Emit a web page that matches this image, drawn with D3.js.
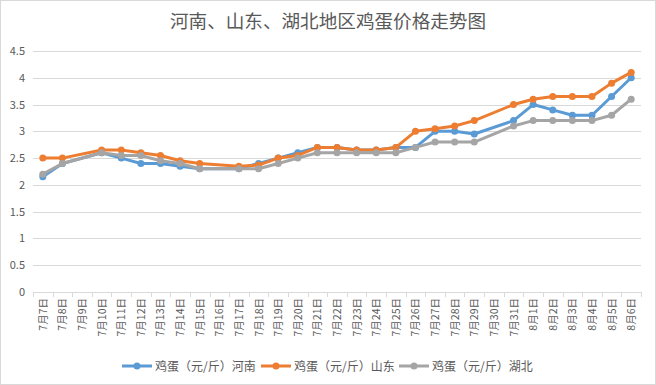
<!DOCTYPE html>
<html><head><meta charset="utf-8">
<script src="https://cdn.jsdelivr.net/npm/d3@7"></script>
<style>body{margin:0;background:#fff;}svg{display:block;font-family:"Noto Sans CJK SC","Noto Sans",sans-serif;}</style>
</head><body>
<svg id="c" width="656" height="385"></svg>
<script>
const categories = ["7月7日","7月8日","7月9日","7月10日","7月11日","7月12日","7月13日","7月14日","7月15日","7月16日","7月17日","7月18日","7月19日","7月20日","7月21日","7月22日","7月23日","7月24日","7月25日","7月26日","7月27日","7月28日","7月29日","7月30日","7月31日","8月1日","8月2日","8月3日","8月4日","8月5日","8月6日"];
const henan  = [2.15,2.4,null,2.6,2.5,2.4,2.4,2.35,2.3,null,2.3,2.4,2.5,2.6,2.7,2.7,2.65,2.65,2.7,2.7,3.0,3.0,2.95,null,3.2,3.5,3.4,3.3,3.3,3.65,4.0];
const shandong=[2.5,2.5,null,2.65,2.65,2.6,2.55,2.45,2.4,null,2.35,2.37,2.5,2.55,2.7,2.7,2.65,2.65,2.7,3.0,3.05,3.1,3.2,null,3.5,3.6,3.65,3.65,3.65,3.9,4.1];
const hubei  = [2.2,2.4,null,2.6,2.55,2.55,2.45,2.4,2.3,null,2.3,2.3,2.4,2.5,2.6,2.6,2.6,2.6,2.6,2.7,2.8,2.8,2.8,null,3.1,3.2,3.2,3.2,3.2,3.3,3.6];
const yTicks = [0,0.5,1,1.5,2,2.5,3,3.5,4,4.5];
const seriesNames = ["鸡蛋（元/斤）河南","鸡蛋（元/斤）山东","鸡蛋（元/斤）湖北"];
const colors = ["#5B9BD5","#ED7D31","#A5A5A5"];
const title = "河南、山东、湖北地区鸡蛋价格走势图";

const svg = d3.select("#c");
svg.append("rect").attr("x",0.5).attr("y",0.5).attr("width",655).attr("height",384).attr("fill","#fff").attr("stroke","#d9d9d9");

const L=33, R=641, T=51, B=292;
const x = d3.scaleBand().domain(categories).range([L,R]);
const y = d3.scaleLinear().domain([0,4.5]).range([B,T]);

svg.append("text").attr("x",328).attr("y",28).attr("text-anchor","middle").attr("font-size",18.6).attr("fill","#595959").text(title);

// grid
svg.append("g").selectAll("line").data(yTicks).join("line")
  .attr("x1",L).attr("x2",R).attr("y1",d=>Math.round(y(d))+0.5).attr("y2",d=>Math.round(y(d))+0.5)
  .attr("stroke","#d9d9d9").attr("stroke-width",1);
svg.append("g").selectAll("text").data(yTicks).join("text")
  .attr("x",25).attr("y",d=>y(d)+4).attr("text-anchor","end").attr("font-size",11).attr("fill","#595959").text(d=>d);

// x axis ticks
const xb = categories.map(c=>x(c)).concat([R]);
svg.append("g").selectAll("line").data(xb).join("line")
  .attr("x1",d=>Math.round(d)+0.5).attr("x2",d=>Math.round(d)+0.5).attr("y1",B).attr("y2",B+5).attr("stroke","#d9d9d9");
svg.append("g").selectAll("text").data(categories).join("text")
  .attr("transform",d=>`translate(${x(d)+x.bandwidth()/2+4},${B+6}) rotate(-90)`)
  .attr("text-anchor","end").attr("font-size",10.5).attr("fill","#595959").text(d=>d);

const data=[henan,shandong,hubei];
const line = d3.line().x(d=>x(d.c)+x.bandwidth()/2).y(d=>y(d.v));
data.forEach((s,i)=>{
  const pts = s.map((v,j)=>({c:categories[j],v})).filter(d=>d.v!=null);
  svg.append("path").datum(pts).attr("d",line).attr("fill","none").attr("stroke",colors[i]).attr("stroke-width",3).attr("stroke-linejoin","round");
  svg.append("g").selectAll("circle").data(pts).join("circle")
    .attr("cx",d=>x(d.c)+x.bandwidth()/2).attr("cy",d=>y(d.v)).attr("r",3.5).attr("fill",colors[i]);
});

// legend
const lg = svg.append("g");
const starts=[122,261,399];
seriesNames.forEach((n,i)=>{
  const g=lg.append("g").attr("transform",`translate(${starts[i]},366)`);
  g.append("line").attr("x1",0).attr("x2",30).attr("stroke",colors[i]).attr("stroke-width",3);
  g.append("circle").attr("cx",15).attr("r",3.5).attr("fill",colors[i]);
  g.append("text").attr("x",33).attr("y",4.5).attr("font-size",12).attr("fill","#595959").text(n);
});
</script>
</body></html>
